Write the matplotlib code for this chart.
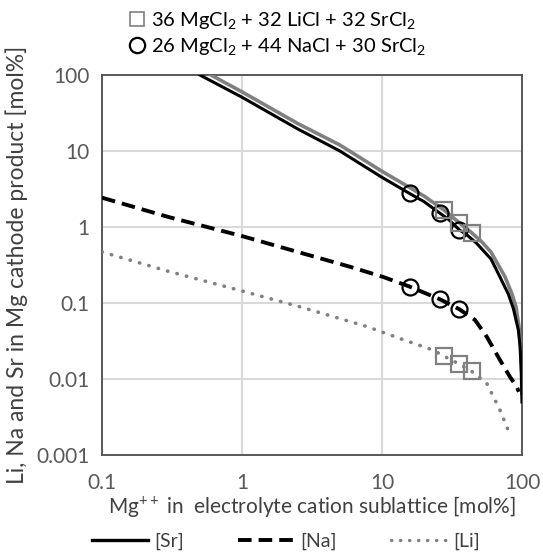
import matplotlib
matplotlib.use('Agg')
import matplotlib.pyplot as plt
from matplotlib.lines import Line2D
from matplotlib.ticker import FixedLocator, FixedFormatter, NullLocator

plt.rcParams['font.family'] = ['Lato', 'DejaVu Sans']
plt.rcParams['mathtext.fontset'] = 'custom'
plt.rcParams['mathtext.rm'] = 'Lato'
plt.rcParams['mathtext.it'] = 'Lato'

# curves: Mg++ [mol%] vs impurity [mol%]
sr_x = [0.5, 1, 2.5, 5, 10, 15.8, 20, 25.9, 30, 35.6, 40, 47.4, 60, 69.6, 80, 86.7, 94.2, 96.8, 99, 99.6, 99.9]
sr_y = [100, 51, 19.5, 10, 4.5, 2.75, 2.15, 1.52, 1.25, 0.92, 0.8, 0.61, 0.38, 0.22, 0.13, 0.085, 0.044, 0.027, 0.012, 0.0065, 0.005]

sr2_x = [0.6, 1, 2.5, 5, 10, 15.8, 20, 27.7, 35.6, 43.7, 51.5, 60, 75.7, 85, 90.6, 95, 97.7, 99.2, 99.7]
sr2_y = [100, 60, 23, 12, 5.4, 3.3, 2.55, 1.67, 1.14, 0.84, 0.64, 0.47, 0.22, 0.13, 0.089, 0.05, 0.027, 0.012, 0.0065]

na_x = [0.1, 0.3, 1, 2.6, 5.9, 10.2, 15.8, 25.9, 35.6, 46.1, 56, 69.6, 82, 91.6, 95]
na_y = [2.43, 1.35, 0.76, 0.46, 0.30, 0.22, 0.164, 0.112, 0.083, 0.060, 0.036, 0.0178, 0.0107, 0.0079, 0.0068]

li_x = [0.1, 0.3, 1, 2.6, 7.8, 13.5, 23.2, 27.7, 35.6, 43.7, 56, 69.6, 79.8, 86.7]
li_y = [0.47, 0.26, 0.144, 0.089, 0.049, 0.034, 0.024, 0.020, 0.0157, 0.0126, 0.0088, 0.0039, 0.0021, 0.0018]

# experimental compositions
circ_x = [15.8, 25.9, 35.6]
circ_sr = [2.77, 1.51, 0.91]
circ_na = [0.164, 0.112, 0.083]
sq_x = [27.7, 35.6, 43.7]
sq_sr = [1.67, 1.14, 0.83]
sq_li = [0.020, 0.0157, 0.0126]

xticks = [0.1, 1, 10, 100]
xlabels = ['0.1', '1', '10', '100']
yticks = [0.001, 0.01, 0.1, 1, 10, 100]
ylabels = ['0.001', '0.01', '0.1', '1', '10', '100']

grey = '#808080'
txt = '#595959'

fig = plt.figure(figsize=(5.43, 5.54), dpi=100)
ax = fig.add_axes([102/543, 1-455/554, 420/543, 380/554])

ax.plot(sr2_x, sr2_y, color=grey, lw=2.6, zorder=3)
ax.plot(sr_x, sr_y, color='black', lw=2.2, zorder=4)
ax.plot(na_x, na_y, color='black', lw=2.8, ls=(0, (3.5, 1.8)), zorder=4)
ax.plot(li_x, li_y, color=grey, lw=2.6, ls=(0, (0.1, 2.6)), dash_capstyle='round', zorder=4)

mk = dict(ls='none', mfc='none', ms=11.5, mew=1.6, zorder=5)
ax.plot(circ_x, circ_sr, marker='o', mec='black', **mk)
ax.plot(circ_x, circ_na, marker='o', mec='black', **mk)
ax.plot(sq_x, sq_sr, marker='s', mec=grey, **mk)
ax.plot(sq_x, sq_li, marker='s', mec=grey, **mk)

ax.set_xscale('log')
ax.set_yscale('log')
ax.set_xlim(0.1, 100)
ax.set_ylim(0.001, 100)
ax.xaxis.set_major_locator(FixedLocator(xticks))
ax.xaxis.set_major_formatter(FixedFormatter(xlabels))
ax.yaxis.set_major_locator(FixedLocator(yticks))
ax.yaxis.set_major_formatter(FixedFormatter(ylabels))
ax.xaxis.set_minor_locator(NullLocator())
ax.yaxis.set_minor_locator(NullLocator())
ax.tick_params(length=0, labelsize=15, labelcolor=txt)
ax.tick_params(axis='x', pad=13)
ax.tick_params(axis='y', pad=9)
ax.grid(True, color='#d9d9d9', lw=1.5)
ax.set_axisbelow(True)
for s in ax.spines.values():
    s.set_color('#595959')
    s.set_linewidth(1.4)

ax.set_xlabel('Mg$^{++}$ in  electrolyte cation sublattice [mol%]', fontsize=15, color='#404040', labelpad=1)
ax.set_ylabel('Li, Na and Sr in Mg cathode product [mol%]', fontsize=16.5, color='#404040', labelpad=6)

top_handles = [
    Line2D([], [], ls='none', marker='s', mfc='none', mec=grey, ms=10, mew=1.2),
    Line2D([], [], ls='none', marker='o', mfc='none', mec='black', ms=11, mew=1.6),
]
top_labels = [r'36 MgCl$_2$ + 32 LiCl + 32 SrCl$_2$', r'26 MgCl$_2$ + 44 NaCl + 30 SrCl$_2$']
fig.legend(top_handles, top_labels, loc='upper left', bbox_to_anchor=(117/543, 1.0),
           frameon=False, fontsize=14.5, handlelength=1.0, handletextpad=0.2,
           labelspacing=0.25, borderaxespad=0.1)

bot_handles = [
    Line2D([], [], color='black', lw=2.4),
    Line2D([], [], color='black', lw=2.8, ls=(0, (3.5, 1.8))),
    Line2D([], [], color=grey, lw=2.4, ls=(0, (0.1, 2.6)), dash_capstyle='round'),
]
fig.legend(bot_handles, ['[Sr]', '[Na]', '[Li]'], loc='center', bbox_to_anchor=(286/543, 1-541/554),
           ncol=3, frameon=False, fontsize=14, handlelength=2.9, handletextpad=0.3,
           columnspacing=2.8, labelcolor='#404040', borderpad=0.1)

fig.savefig('out.png', dpi=100)
